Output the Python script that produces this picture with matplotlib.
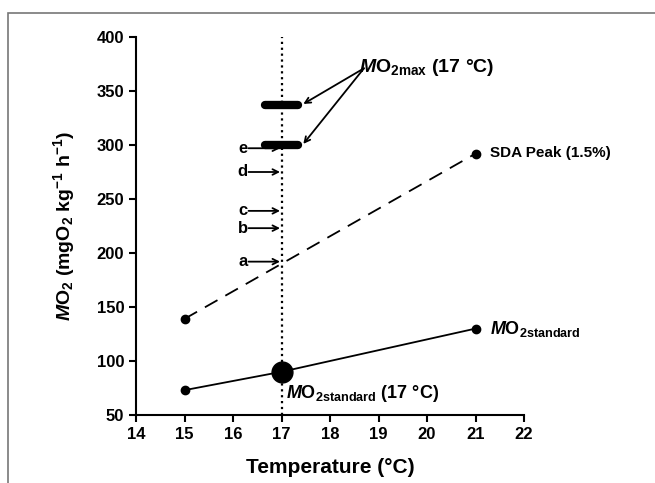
import matplotlib.pyplot as plt
from matplotlib.patches import Rectangle

plt.rcParams['font.family'] = 'Liberation Sans'
plt.rcParams['font.weight'] = 'bold'
plt.rcParams['mathtext.fontset'] = 'custom'
plt.rcParams['mathtext.rm'] = 'Liberation Sans:bold'
plt.rcParams['mathtext.bf'] = 'Liberation Sans:bold'
plt.rcParams['mathtext.it'] = 'Liberation Sans:italic:bold'
plt.rcParams['mathtext.bfit'] = 'Liberation Sans:italic:bold'

# data
temp = [15, 17, 21]
mo2_std = [73, 90, 130]
sda_temp = [15, 21]
sda_peak = [139, 292]
mo2_max = [337, 300]
letters = ['a', 'b', 'c', 'd', 'e']
letter_y = [192, 223, 239, 275, 297]

fig = plt.figure(figsize=(6.55, 4.83), dpi=100)
fig.patches.append(Rectangle((8 / 655, -0.1), 1.2, 1 - 13 / 483 + 0.1,
                             transform=fig.transFigure, fill=False,
                             edgecolor='#777777', linewidth=1.2))
ax = fig.add_axes([136 / 655, 68 / 483, 388 / 655, 378 / 483])

ax.axvline(17, color='black', linestyle=':', linewidth=1.6, zorder=1)
ax.plot(temp, mo2_std, '-', color='black', linewidth=1.3, marker='o', markersize=6)
ax.plot([17], [mo2_std[1]], 'o', color='black', markersize=15)
ax.plot(sda_temp, sda_peak, '--', color='black', linewidth=1.3, dashes=(8, 5),
        marker='o', markersize=6)
for v in mo2_max:
    ax.plot([16.65, 17.35], [v, v], color='black', linewidth=6, solid_capstyle='round')

for lab, v in zip(letters, letter_y):
    ax.annotate('', xy=(16.97, v), xytext=(16.32, v),
                arrowprops=dict(arrowstyle='->', color='black', lw=1.3,
                                shrinkA=0, shrinkB=0))
    ax.text(16.2, v, lab, ha='center', va='center', fontsize=12)

for v in mo2_max:
    ax.annotate('', xy=(17.45, v + 1), xytext=(18.7, 371),
                arrowprops=dict(arrowstyle='->', color='black', lw=1.3,
                                shrinkA=0, shrinkB=0))
ax.text(18.6, 372, r'$\mathbfit{M}\mathbf{O}_{\mathbf{2max}}$ (17 °C)',
        fontsize=14, ha='left', va='center')
ax.text(21.3, 293, 'SDA Peak (1.5%)', fontsize=11, ha='left', va='center')
ax.text(21.3, 130, r'$\mathbfit{M}\mathbf{O}_{\mathbf{2standard}}$',
        fontsize=13, ha='left', va='center')
ax.text(17.1, 70, r'$\mathbfit{M}\mathbf{O}_{\mathbf{2standard}}$ (17 °C)',
        fontsize=13, ha='left', va='center')

ax.set_xlim(14, 22)
ax.set_ylim(50, 400)
ax.set_xticks(range(14, 23))
ax.set_yticks(range(50, 401, 50))
ax.spines['top'].set_visible(False)
ax.spines['right'].set_visible(False)
ax.spines['left'].set_linewidth(1.5)
ax.spines['bottom'].set_linewidth(1.5)
ax.tick_params(direction='out', length=5, width=1.5, labelsize=12)
ax.set_xlabel('Temperature (°C)', fontsize=15, fontweight='bold', labelpad=12)
ax.set_ylabel(r'$\mathbfit{M}\mathbf{O}_\mathbf{2}$ (mgO$_\mathbf{2}$ kg$^{\mathbf{-1}}$ h$^{\mathbf{-1}}$)',
              fontsize=14, fontweight='bold', labelpad=14)

fig.savefig('out.png', dpi=100)
